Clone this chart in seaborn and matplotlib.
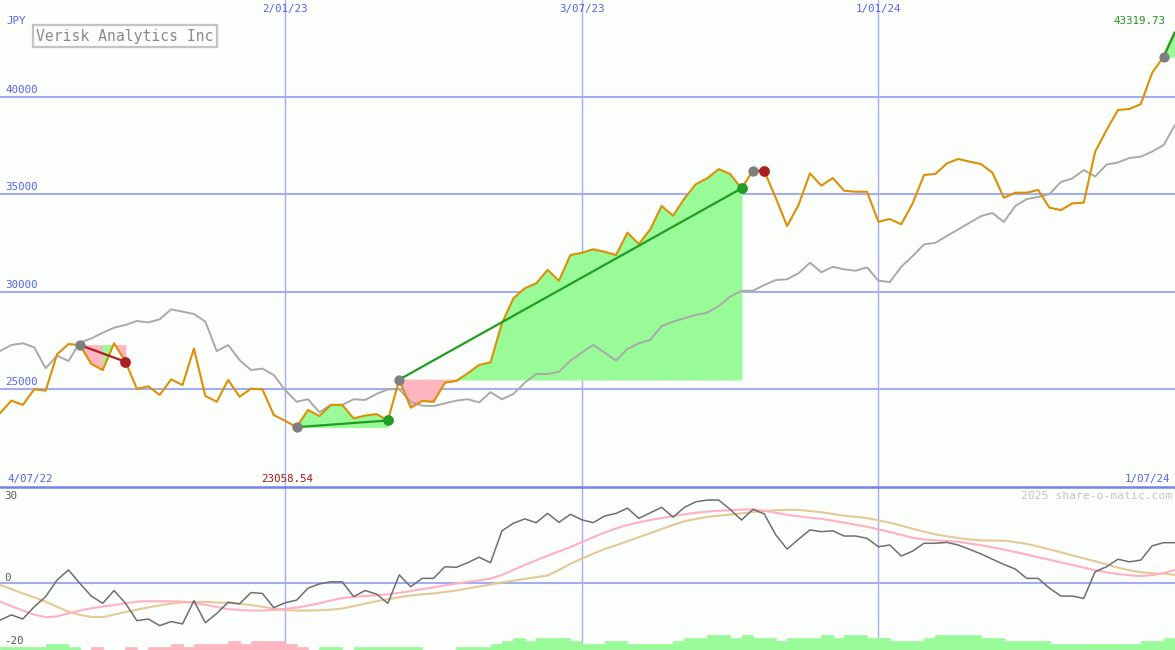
#!/usr/bin/env python3
"""
Verisk Analytics Inc - weekly JPY price chart with trade markers
and a momentum panel underneath (share-o-matic style)
"""

import matplotlib
matplotlib.use("Agg")
import matplotlib.pyplot as plt
import matplotlib.transforms as mtransforms
import pandas as pd
import seaborn as sns

# ---------------------------------------------------------------- data
dates = pd.date_range(end="2024-07-01", periods=104, freq="7D")

price = [
    23770, 24420, 24200, 25000, 24930, 26790, 27320, 27270, 26300, 25990,
    27360, 26410, 25020, 25150, 24710, 25510, 25220, 27090, 24660, 24360,
    25480, 24620, 25030, 25000, 23680, 23380, 23058.54, 23940, 23630, 24200,
    24200, 23510, 23650, 23730, 23400, 25500, 24060, 24400, 24360, 25340,
    25430, 25820, 26250, 26380, 28380, 29660, 30180, 30430, 31120, 30570,
    31880, 32000, 32180, 32050, 31880, 33030, 32450, 33200, 34400, 33900,
    34790, 35520, 35820, 36290, 36040, 35300, 36210, 36190, 34810, 33370,
    34450, 36070, 35440, 35830, 35180, 35130, 35130, 33590, 33730, 33460,
    34530, 35990, 36040, 36580, 36810, 36670, 36550, 36100, 34820, 35080,
    35080, 35220, 34310, 34190, 34530, 34570, 37180, 38290, 39320, 39370,
    39620, 41230, 42050, 43319.73,
]

benchmark = [
    26960, 27270, 27360, 27150, 26080, 26720, 26450, 27390, 27610, 27900,
    28160, 28300, 28500, 28430, 28590, 29100, 28980, 28860, 28470, 26960,
    27270, 26500, 25990, 26060, 25730, 24960, 24360, 24490, 23820, 24200,
    24200, 24490, 24450, 24760, 25000, 25000, 24360, 24160, 24140, 24280,
    24420, 24490, 24330, 24850, 24490, 24760, 25340, 25780, 25780, 25900,
    26470, 26880, 27270, 26880, 26470, 27070, 27360, 27530, 28240, 28470,
    28640, 28810, 28930, 29270, 29750, 30050, 30050, 30350, 30600, 30640,
    30950, 31490, 31000, 31280, 31150, 31080, 31250, 30570, 30500, 31280,
    31830, 32430, 32510, 32860, 33200, 33540, 33880, 34040, 33580, 34400,
    34750, 34860, 35010, 35630, 35810, 36240, 35910, 36520, 36630, 36860,
    36930, 37190, 37520, 38550,
]

momentum = [
    -12.8, -11.0, -12.4, -8.2, -4.7, 1.0, 4.5, -0.1, -4.5, -7.0,
    -2.6, -7.0, -13.0, -12.4, -14.7, -13.3, -14.1, -6.1, -13.7, -10.5,
    -6.6, -7.2, -3.3, -3.6, -8.5, -6.8, -5.9, -1.8, -0.3, 0.4,
    0.4, -4.7, -2.6, -3.8, -7.0, 2.8, -1.3, 1.6, 1.6, 5.6,
    5.4, 7.0, 8.9, 7.0, 18.0, 20.6, 22.1, 20.8, 24.0, 20.9,
    23.7, 21.8, 20.8, 23.1, 24.0, 25.8, 22.3, 24.2, 26.1, 22.7,
    26.1, 28.0, 28.6, 28.6, 25.4, 21.7, 25.4, 23.8, 16.6, 11.7,
    15.1, 18.3, 17.7, 18.0, 16.2, 16.2, 15.4, 12.5, 13.1, 9.3,
    11.0, 13.7, 13.7, 14.0, 13.1, 11.6, 10.0, 8.2, 6.4, 4.8,
    1.6, 1.6, -1.8, -4.5, -4.5, -5.3, 3.9, 5.6, 8.2, 7.3,
    7.9, 12.8, 13.9, 13.9,
]

fast_avg = [
    -6.4, -8.0, -9.5, -10.9, -11.8, -11.5, -10.5, -9.5, -8.7, -8.1,
    -7.6, -7.0, -6.4, -6.3, -6.3, -6.3, -6.4, -6.9, -7.5, -8.3,
    -9.0, -9.3, -9.5, -9.5, -9.3, -8.9, -8.5, -7.8, -7.0, -6.0,
    -5.2, -4.8, -4.5, -4.2, -3.9, -3.4, -2.8, -2.1, -1.5, -0.8,
    -0.2, 0.4, 0.9, 1.5, 2.8, 4.5, 6.2, 7.8, 9.4, 10.9,
    12.4, 14.1, 15.8, 17.4, 18.8, 20.0, 20.9, 21.7, 22.4, 23.1,
    23.7, 24.2, 24.6, 24.9, 25.1, 25.3, 25.4, 24.9, 24.2, 23.5,
    23.0, 22.5, 22.1, 21.5, 20.8, 20.1, 19.4, 18.5, 17.6, 16.6,
    15.6, 15.0, 14.7, 14.5, 14.2, 13.6, 13.0, 12.3, 11.5, 10.7,
    9.8, 8.9, 8.0, 7.1, 6.2, 5.3, 4.4, 3.7, 3.1, 2.7,
    2.4, 2.7, 3.4, 4.5,
]

slow_avg = [
    -0.7, -2.1, -3.6, -5.0, -6.4, -8.2, -9.9, -11.0, -11.7, -11.8,
    -10.9, -10.0, -9.2, -8.4, -7.7, -7.1, -6.7, -6.5, -6.5, -6.7,
    -6.9, -7.2, -7.6, -8.2, -8.9, -9.3, -9.5, -9.5, -9.4, -9.2,
    -8.8, -8.0, -7.1, -6.3, -5.6, -4.9, -4.3, -3.9, -3.6, -3.1,
    -2.6, -1.9, -1.2, -0.5, 0.2, 0.8, 1.4, 2.0, 2.6, 4.5,
    6.6, 8.4, 10.1, 11.7, 13.0, 14.4, 15.8, 17.2, 18.6, 20.0,
    21.3, 22.1, 22.8, 23.2, 23.6, 24.0, 24.5, 24.8, 25.1, 25.2,
    25.2, 24.8, 24.4, 23.8, 23.2, 22.8, 22.4, 21.6, 20.8, 19.8,
    18.7, 17.7, 16.8, 16.1, 15.5, 15.0, 14.7, 14.6, 14.6, 14.1,
    13.5, 12.6, 11.6, 10.6, 9.5, 8.5, 7.5, 6.4, 5.3, 4.4,
    3.7, 3.4, 3.2, 2.8,
]

# weekly trend strength blocks at the foot of the lower panel (+ green, - pink)
strength = [
    1, 1, 1, 1, 2, 2, 1, 0, -1, 0,
    0, -1, 0, -1, -1, -2, -1, -2, -2, -2,
    -3, -2, -3, -3, -3, -2, -1, 0, 1, 1,
    0, 1, 1, 1, 1, 1, 1, 0, 0, 0,
    1, 1, 1, 2, 3, 4, 3, 4, 4, 4,
    3, 2, 2, 3, 3, 2, 2, 2, 2, 3,
    4, 4, 5, 5, 4, 5, 4, 4, 3, 4,
    4, 4, 5, 4, 5, 5, 4, 4, 3, 3,
    3, 4, 5, 5, 5, 5, 4, 4, 3, 3,
    3, 3, 2, 2, 2, 2, 2, 2, 2, 2,
    3, 3, 4,
]

# (entry week, exit week, outcome)
trades = [
    (7, 11, "loss"),
    (26, 34, "win"),
    (35, 65, "win"),
    (66, 67, "loss"),
    (102, 103, "open"),
]

grid_dates = pd.to_datetime(["2023-01-02", "2023-07-03", "2024-01-01"])
grid_labels = ["2/01/23", "3/07/23", "1/01/24"]
price_levels = [25000, 30000, 35000, 40000]
momentum_labels = [(30, "30", "center"), (0, "0", "bottom"), (-20, "-20", "center")]

# ---------------------------------------------------------------- style
BG = "#fcfefc"
GRID = "#a3aef2"
SEPARATOR = "#7482ea"
BLUE_TEXT = "#5562ee"
ORANGE = "#db9005"
BENCH_GREY = "#a9a9a9"
FILL_GREEN = "#98fb98"
FILL_PINK = "#ffb6c1"
TRADE_GREEN = "#229c22"
TRADE_RED = "#a82020"
DOT_GREY = "#7f7f7f"
MOM_GREY = "#6e6e6e"
FAST_PINK = "#ffb0c4"
SLOW_TAN = "#e4c998"
SMALL = 7.8

PRICE_LIM = (19990, 44960)
MOM_LIM = (-23.1, 33.1)
W, H = 1175, 650
SPLIT = 487  # pixel row of the panel separator

sns.set_style("white")
plt.rcParams["font.family"] = ["DejaVu Sans Mono"]


def clean_axes(ax):
    ax.set_facecolor(BG)
    ax.set_xticks([])
    ax.set_yticks([])
    ax.set_xlabel("")
    ax.set_ylabel("")
    for spine in ax.spines.values():
        spine.set_visible(False)


def draw_trade(ax, start, end, outcome):
    """Shade each week against the entry price, then join entry and exit."""
    entry = price[start]
    for k in range(start, end):
        colour = FILL_GREEN if price[k + 1] >= entry else FILL_PINK
        ax.fill_between(dates[k:k + 2], entry, price[k:k + 2],
                        facecolor=colour, edgecolor=colour, linewidth=0.6, zorder=2)
    line_colour = TRADE_RED if outcome == "loss" else TRADE_GREEN
    ax.plot([dates[start], dates[end]], [price[start], price[end]],
            color=line_colour, lw=1.6, zorder=4, solid_capstyle="butt")
    ax.scatter([dates[start]], [price[start]], s=55, color=DOT_GREY,
               linewidths=0, zorder=5)
    if outcome != "open":
        ax.scatter([dates[end]], [price[end]], s=60, color=line_colour,
                   linewidths=0, zorder=5)


def px_text(fig, x, y, s, **kw):
    """Place text at pixel coordinates (origin top-left)."""
    fig.text(x / W, 1 - y / H, s, **kw)


fig = plt.figure(figsize=(W / 100, H / 100), dpi=100, facecolor=BG)
ax = fig.add_axes([0, (H - SPLIT) / H, 1, SPLIT / H])
axl = fig.add_axes([0, 0, 1, (H - SPLIT) / H])

# ---------------------------------------------------------------- price panel
for level in price_levels:
    ax.axhline(level, color=GRID, lw=1.5, zorder=1)
for d in grid_dates:
    ax.axvline(d, color=GRID, lw=1.0, zorder=1)
    axl.axvline(d, color=GRID, lw=1.0, zorder=1)

for start, end, outcome in trades:
    draw_trade(ax, start, end, outcome)

sns.lineplot(x=dates, y=benchmark, ax=ax, color=BENCH_GREY, lw=1.4, zorder=3)
sns.lineplot(x=dates, y=price, ax=ax, color=ORANGE, lw=1.5, zorder=3)

ax.set_xlim(dates[0], dates[-1])
ax.set_ylim(*PRICE_LIM)
clean_axes(ax)

ytrans = mtransforms.offset_copy(ax.get_yaxis_transform(), fig=fig, x=5, y=2, units="dots")
for level in price_levels:
    ax.text(0, level, str(level), transform=ytrans, ha="left", va="bottom",
            fontsize=SMALL, color=BLUE_TEXT)

xtrans = ax.get_xaxis_transform()
for d, label in zip(grid_dates, grid_labels):
    ax.text(d, 1 - 9 / SPLIT, label, transform=xtrans, ha="center", va="center",
            fontsize=SMALL, color=BLUE_TEXT)

low_idx = price.index(min(price))
low_trans = mtransforms.offset_copy(xtrans, fig=fig, x=-9, y=0, units="dots")
ax.text(dates[low_idx], (SPLIT - 479) / SPLIT, f"{price[low_idx]:.2f}",
        transform=low_trans, ha="center", va="center", fontsize=SMALL, color="#a01818")

px_text(fig, 1166, 21, f"{price[-1]:.2f}", ha="right", va="center",
        fontsize=SMALL, color="#1e961e")
px_text(fig, 6, 21, "JPY", ha="left", va="center", fontsize=SMALL, color=BLUE_TEXT)
px_text(fig, 125, 36, "Verisk Analytics Inc", ha="center", va="center",
        fontsize=10.6, color="#8a8a8a",
        bbox=dict(boxstyle="square,pad=0.22", facecolor="none",
                  edgecolor="#c4c4c4", linewidth=1.6))
px_text(fig, 7, 479, "4/07/22", ha="left", va="center", fontsize=SMALL, color=BLUE_TEXT)
px_text(fig, 1170, 479, "1/07/24", ha="right", va="center", fontsize=SMALL, color=BLUE_TEXT)

# ---------------------------------------------------------------- momentum panel
axl.axhline(0, color=GRID, lw=1.5, zorder=1)

bar_colours = [FILL_GREEN if s > 0 else FILL_PINK for s in strength]
bar_heights = [abs(s) * 1.03 for s in strength]
axl.bar(dates[:-1], bar_heights, width=pd.Timedelta(days=7), bottom=MOM_LIM[0],
        align="edge", color=bar_colours, edgecolor=bar_colours, linewidth=0.5, zorder=2)

sns.lineplot(x=dates, y=slow_avg, ax=axl, color=SLOW_TAN, lw=1.5, zorder=3)
sns.lineplot(x=dates, y=fast_avg, ax=axl, color=FAST_PINK, lw=1.5, zorder=3)
sns.lineplot(x=dates, y=momentum, ax=axl, color=MOM_GREY, lw=1.1, zorder=4)

axl.set_xlim(dates[0], dates[-1])
axl.set_ylim(*MOM_LIM)
clean_axes(axl)
axl.spines["top"].set_visible(True)
axl.spines["top"].set_color(SEPARATOR)
axl.spines["top"].set_linewidth(1.8)

ltrans = mtransforms.offset_copy(axl.get_yaxis_transform(), fig=fig, x=4, y=0, units="dots")
for value, label, valign in momentum_labels:
    axl.text(0, value, label, transform=ltrans, ha="left", va=valign,
             fontsize=SMALL, color="#5a5a5a")

px_text(fig, 1172, 496, "2025 share-o-matic.com", ha="right", va="center",
        fontsize=8.2, color="#c2c2c2")

fig.savefig("out.png", dpi=100, facecolor=BG)
plt.close(fig)
